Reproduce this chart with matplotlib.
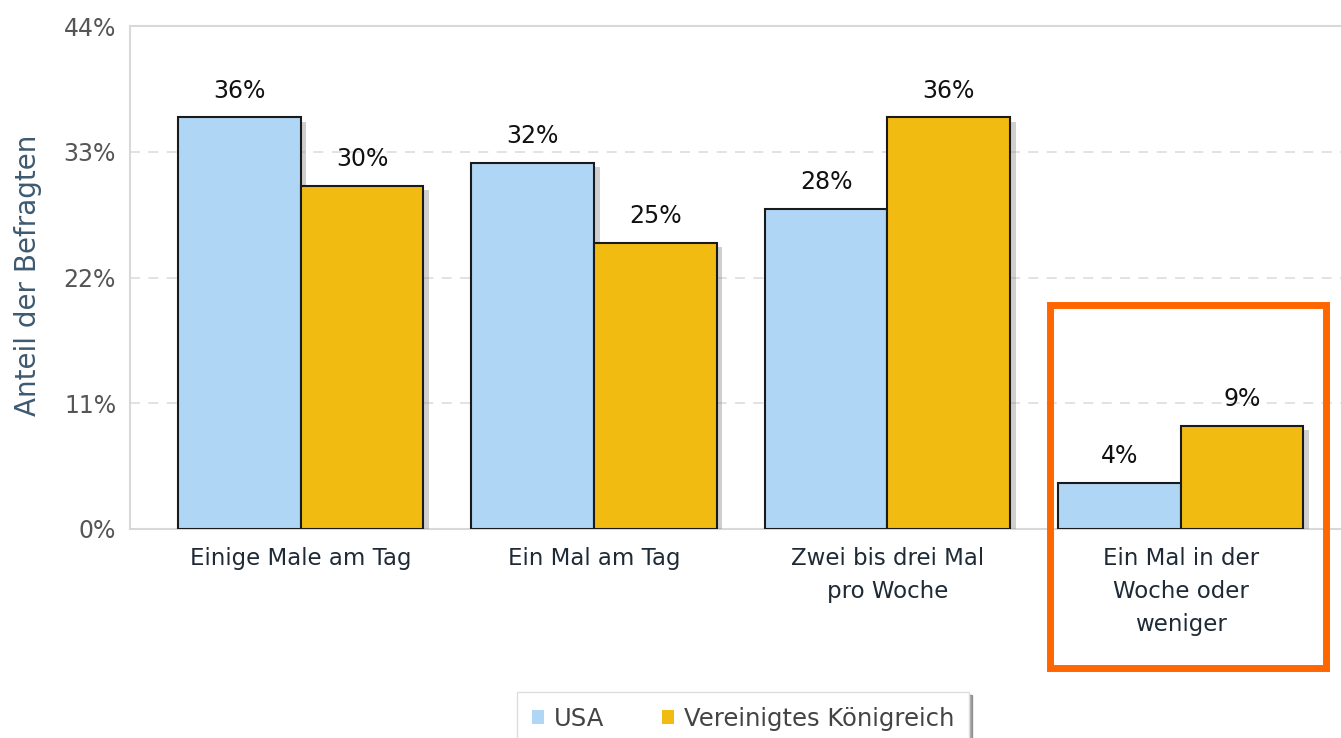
import matplotlib
matplotlib.use("Agg")
import matplotlib.pyplot as plt
import matplotlib.patheffects as pe
from matplotlib.patches import Rectangle
import numpy as np

plt.rcParams['font.family'] = ['DejaVu Sans']

categories = ["Einige Male am Tag", "Ein Mal am Tag",
              "Zwei bis drei Mal\npro Woche", "Ein Mal in der\nWoche oder\nweniger"]
usa = [36, 32, 28, 4]
uk = [30, 25, 36, 9]
series_names = ["USA", "Vereinigtes Königreich"]
yticks = [0, 11, 22, 33, 44]

c_usa = "#b0d6f5"
c_uk = "#f2bb12"

fig = plt.figure(figsize=(13.41, 7.38), dpi=100)
ax = fig.add_axes([130/1341, 1-529/738, 1 - 130/1341 + 0.02, 503/738])

x = np.arange(len(categories))
w = 0.418
shadow = [pe.SimplePatchShadow(offset=(4, -3), shadow_rgbFace='#888888', alpha=0.4), pe.Normal()]
b1 = ax.bar(x - w/2, usa, w, color=c_usa, edgecolor="#1a1a1a", linewidth=1.5, label=series_names[0], zorder=3)
b2 = ax.bar(x + w/2, uk, w, color=c_uk, edgecolor="#1a1a1a", linewidth=1.5, label=series_names[1], zorder=3)
for b in list(b1) + list(b2):
    b.set_path_effects(shadow)

for bars, vals in [(b1, usa), (b2, uk)]:
    for b, v in zip(bars, vals):
        ax.text(b.get_x() + b.get_width()/2, v + 1.3, f"{v}%", ha="center", va="bottom",
                fontsize=17, color="#111111")

ax.set_xlim((130-301)/294, (1341-301)/294 + 0.1)
ax.set_ylim(0, 44)
ax.set_yticks(yticks)
ax.set_yticklabels([f"{t}%" for t in yticks], fontsize=17, color="#555555")
ax.set_xticks(x)
ax.set_xticklabels(categories, fontsize=16.5, color="#1e2a36", linespacing=1.55, va="top")
ax.tick_params(axis="both", length=0)
ax.tick_params(axis="x", pad=13)
ax.tick_params(axis="y", pad=10)

for y in yticks[1:-1]:
    ax.axhline(y, color="#dddddd", linestyle=(0, (6, 5)), linewidth=1.2, zorder=1)
for s in ["top", "left", "bottom"]:
    ax.spines[s].set_color("#d8d8d8")
    ax.spines[s].set_linewidth(1.5)
ax.spines["right"].set_visible(False)

fig.text(28/1341, 1-275/738, "Anteil der Befragten", rotation=90, ha="center", va="center",
         fontsize=20, color="#3d5a70")

# orange highlight
fig.patches.append(Rectangle((1050/1341, 1-668/738), 276/1341, 363/738, transform=fig.transFigure,
                             fill=False, edgecolor="#ff6600", linewidth=5, zorder=10))

leg = fig.legend(handles=[b1, b2], labels=series_names, loc="upper left",
                 bbox_to_anchor=(505/1341, 1-680/738), ncol=2, fontsize=17.5,
                 frameon=True, fancybox=False, shadow=True, handlelength=0.5, handleheight=0.5,
                 columnspacing=2.4, handletextpad=0.4, borderpad=0.6)
leg.get_frame().set_edgecolor("#dddddd")
for t in leg.get_texts():
    t.set_color("#444444")
for h in leg.legend_handles:
    h.set_edgecolor("none")
    h.set_path_effects([])

fig.savefig("out.png", dpi=100)
